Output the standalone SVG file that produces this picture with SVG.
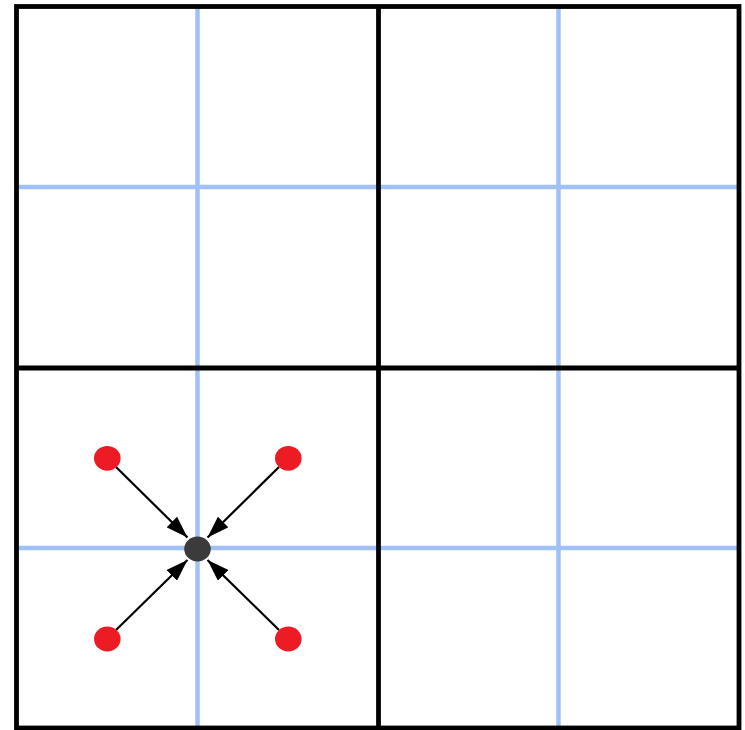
<svg xmlns="http://www.w3.org/2000/svg" width="745" height="730" viewBox="0 0 745 730">
<style>
.blue{stroke:#a0c0f8;stroke-width:4.5;fill:none}
.blk{stroke:#000;stroke-width:4.8;fill:none}
.arr{stroke:#000;stroke-width:2.2;fill:none;marker-end:url(#ah)}
.red{fill:#ed1c24}
.ctr{fill:#3b3b3b}
</style>
<defs>
<marker id="ah" markerUnits="userSpaceOnUse" viewBox="0 0 22 15" refX="22" refY="7.5" markerWidth="22" markerHeight="15" orient="auto">
<path d="M0,0 L22,7.5 L0,15 Z" fill="#000"/>
</marker>
</defs>
<rect width="745" height="730" fill="#fff"/>
<g id="grid-fine">
<line class="blue" x1="197.5" y1="6.5" x2="197.5" y2="728"/>
<line class="blue" x1="558.5" y1="6.5" x2="558.5" y2="728"/>
<line class="blue" x1="16.5" y1="187" x2="739" y2="187"/>
<line class="blue" x1="16.5" y1="548" x2="739" y2="548"/>
</g>
<g id="grid-coarse">
<rect class="blk" x="16.5" y="6.5" width="722.5" height="721.5"/>
<line class="blk" x1="378.5" y1="6.5" x2="378.5" y2="728"/>
<line class="blk" x1="16.5" y1="368" x2="739" y2="368"/>
</g>
<g id="connectors">
<line class="arr" x1="116" y1="467" x2="187.5" y2="537.5"/>
<line class="arr" x1="279" y1="467" x2="207.5" y2="537.5"/>
<line class="arr" x1="116" y1="630" x2="187.5" y2="560"/>
<line class="arr" x1="279" y1="630" x2="207.5" y2="560"/>
</g>
<g id="p-tl"><ellipse class="red" cx="107.3" cy="458.3" rx="13.3" ry="12.4"/></g>
<g id="p-tr"><ellipse class="red" cx="288.3" cy="458.3" rx="13.3" ry="12.4"/></g>
<g id="p-bl"><ellipse class="red" cx="107.3" cy="639" rx="13.3" ry="12.4"/></g>
<g id="p-br"><ellipse class="red" cx="288.3" cy="639" rx="13.3" ry="12.4"/></g>
<g id="center"><ellipse class="ctr" cx="197.5" cy="549" rx="13.3" ry="12.5"/></g>
</svg>
